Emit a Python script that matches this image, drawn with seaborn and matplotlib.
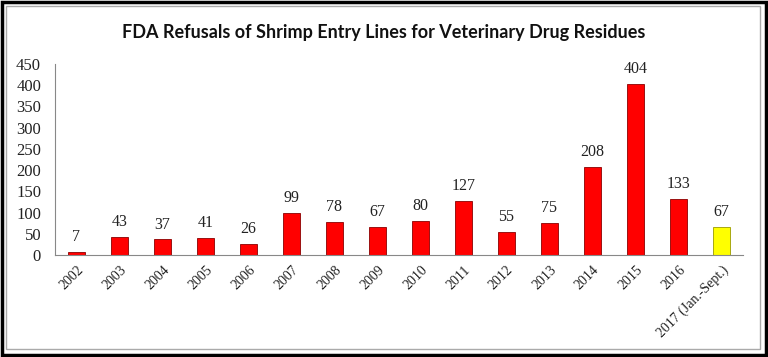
import matplotlib
matplotlib.use("Agg")
import matplotlib.pyplot as plt
import seaborn as sns
import numpy as np
import pandas as pd
from matplotlib.patches import Rectangle

years = ["2002", "2003", "2004", "2005", "2006", "2007", "2008", "2009", "2010",
         "2011", "2012", "2013", "2014", "2015", "2016", "2017 (Jan.-Sept.)"]
refusals = [7, 43, 37, 41, 26, 99, 78, 67, 80, 127, 55, 75, 208, 404, 133, 67]
bar_colors = ["#ff0000"] * 15 + ["#ffff00"]
yticks = [0, 50, 100, 150, 200, 250, 300, 350, 400, 450]
title = "FDA Refusals of Shrimp Entry Lines for Veterinary Drug Residues"

sns.set_style("white")
plt.rcParams["font.family"] = ["Liberation Serif", "DejaVu Serif"]

df = pd.DataFrame({"year": years, "count": refusals})

fig = plt.figure(figsize=(7.68, 3.57), dpi=100)
ax = fig.add_axes([0.0716, 0.2857, 0.8958, 0.535])

sns.barplot(data=df, x="year", y="count", hue="year", palette=bar_colors,
            legend=False, width=0.4, edgecolor="#8a0000", linewidth=0.6,
            saturation=1, ax=ax)
for p, c in zip(ax.patches, bar_colors):
    if c == "#ffff00":
        p.set_edgecolor("#9a9a00")

for i, v in enumerate(refusals):
    ax.text(i, v + 16, str(v), ha="center", va="bottom", fontsize=11.5, color="#222222")

ax.set_ylim(0, 450)
ax.set_xlim(-0.5, len(years) - 0.5)
ax.set_yticks(yticks)
ax.set_yticklabels([str(t) for t in yticks], fontsize=12, color="#222222")
ax.set_xticks(range(len(years)))
ax.set_xticklabels(years, rotation=45, ha="right", rotation_mode="anchor",
                   fontsize=10, color="#222222")
ax.set_xticks(np.arange(-0.5, len(years)), minor=True)
ax.tick_params(axis="x", which="major", length=0, pad=6)
ax.tick_params(axis="x", which="minor", length=4, color="#888888", width=0.8, direction="out")
ax.tick_params(axis="y", length=5, color="#888888", width=0.8, direction="out", pad=5)
ax.set_xlabel("")
ax.set_ylabel("")
for s in ["top", "right"]:
    ax.spines[s].set_visible(False)
for s in ["left", "bottom"]:
    ax.spines[s].set_color("#888888")
    ax.spines[s].set_linewidth(0.8)

fig.text(0.5, 0.91, title, ha="center", va="center", fontsize=13,
         fontweight="bold", family=["Lato", "DejaVu Sans"], color="#111111")

# frames
fig.patches.append(Rectangle((0.002, 0.006), 0.995, 0.988, transform=fig.transFigure,
                             fill=False, edgecolor="black", linewidth=2.5))
fig.patches.append(Rectangle((0.008, 0.022), 0.981, 0.96, transform=fig.transFigure,
                             fill=False, edgecolor="#aaaaaa", linewidth=1))

fig.savefig("out.png", dpi=100)
